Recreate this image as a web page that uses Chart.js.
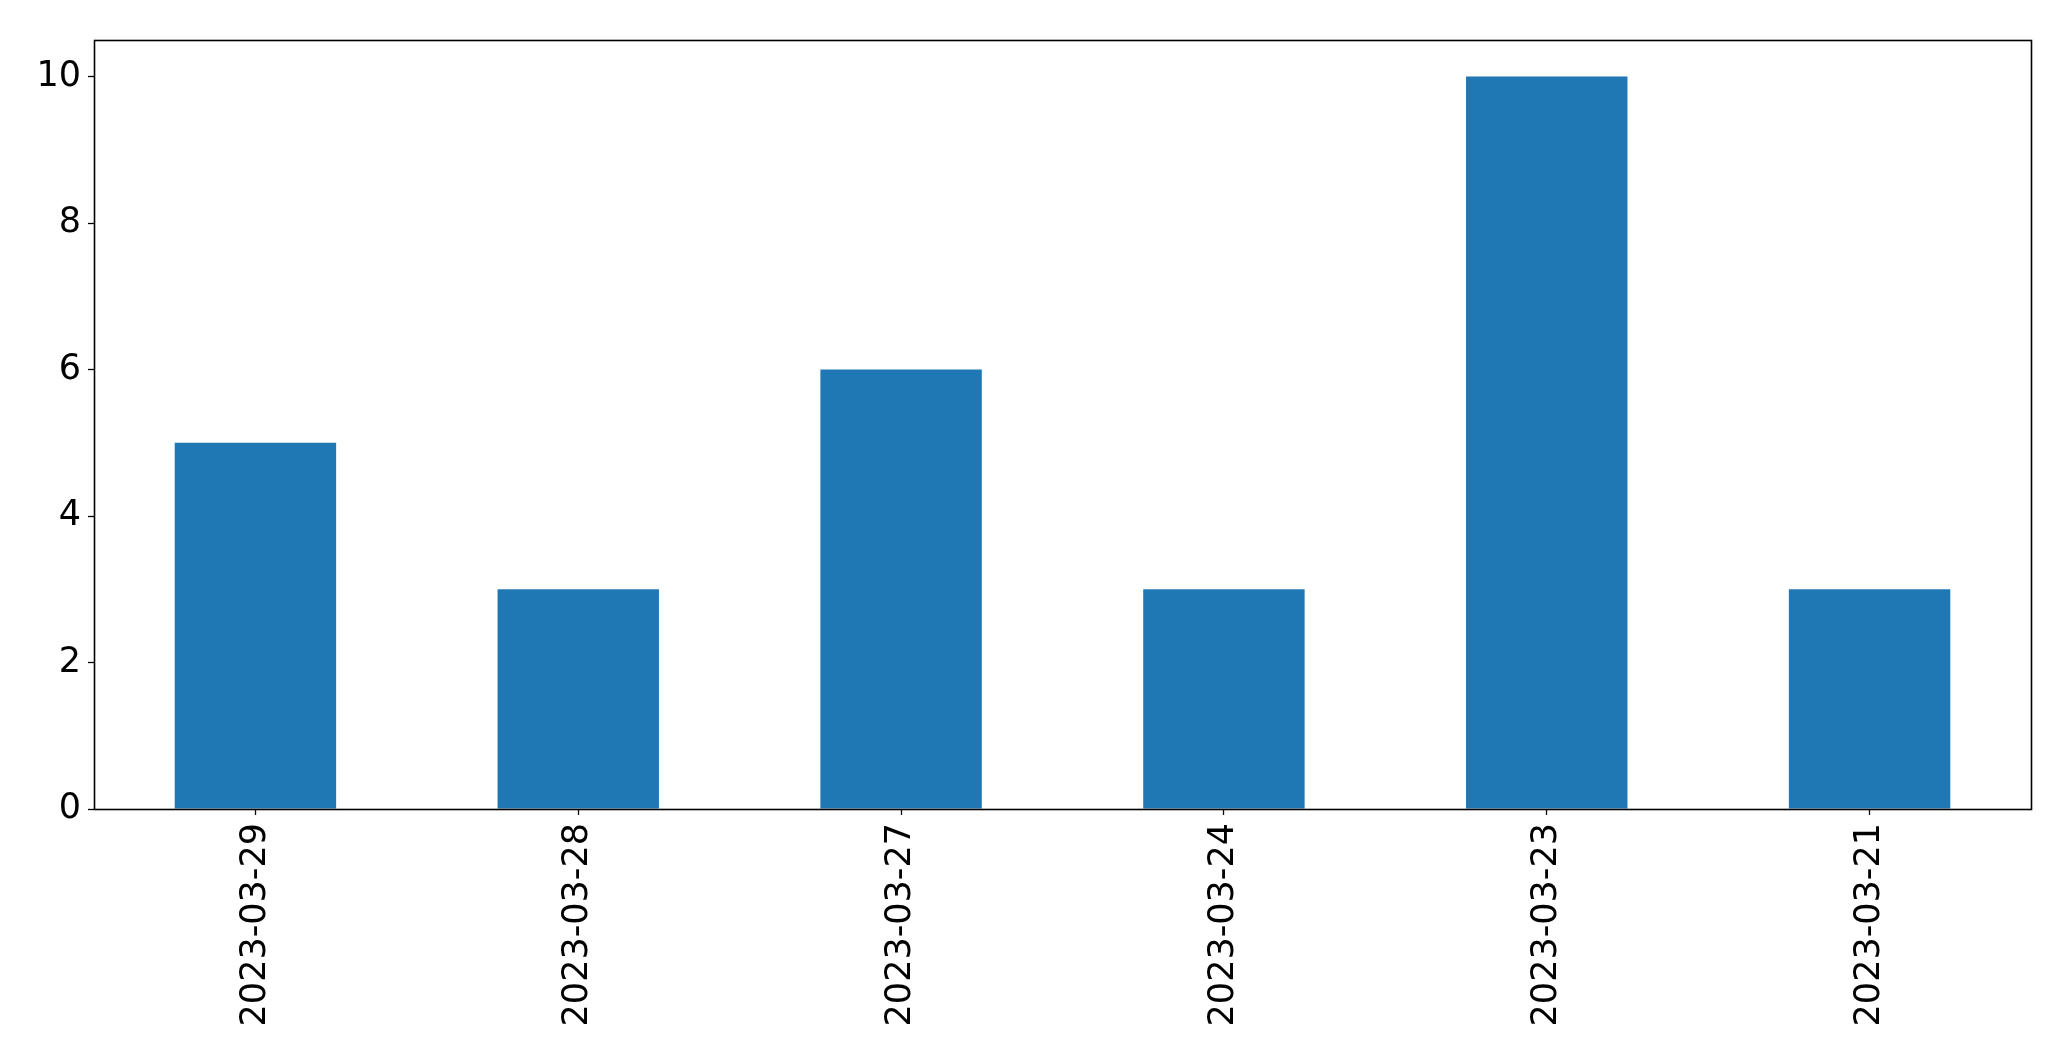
<!DOCTYPE html>
<html>
<head>
<meta charset="utf-8">
<script src="https://cdn.jsdelivr.net/npm/chart.js@4/dist/chart.umd.min.js"></script>
<style>
  body { margin: 0; background: #fff; }
</style>
</head>
<body>
<canvas id="myChart" width="2071" height="1061"></canvas>
<script>
const labels = ['2023-03-29', '2023-03-28', '2023-03-27', '2023-03-24', '2023-03-23', '2023-03-21']
const counts = [5, 3, 6, 3, 10, 3]
const yTicks = [0, 2, 4, 6, 8, 10]

// matplotlib style box around the plot area
const frame = {
  id: 'frame',
  afterDraw(chart) {
    const { ctx, chartArea } = chart
    ctx.save()
    ctx.strokeStyle = '#000'
    ctx.lineWidth = 1.6
    ctx.strokeRect(chartArea.left + 0.5, chartArea.top + 0.5, chartArea.right - chartArea.left, chartArea.bottom - chartArea.top)
    ctx.restore()
  }
}

const font = { family: 'DejaVu Sans', size: 35 }

new Chart(document.getElementById('myChart').getContext('2d'), {
  type: 'bar',
  data: {
    labels: labels,
    datasets: [{
      data: counts,
      backgroundColor: '#1f77b4',
      categoryPercentage: 1,
      barPercentage: 0.5
    }]
  },
  options: {
    responsive: false,
    animation: false,
    layout: { padding: { top: 40, right: 40, left: 0, bottom: 0 } },
    plugins: { legend: { display: false }, tooltip: { enabled: false } },
    scales: {
      x: {
        grid: { offset: false, drawOnChartArea: false, tickLength: 6, tickColor: '#000', tickWidth: 1.3 },
        border: { display: false },
        ticks: { font: font, color: '#000', minRotation: 90, maxRotation: 90, padding: 8, autoSkip: false },
        afterFit: (scale) => { scale.height = 252 }
      },
      y: {
        min: 0,
        max: 10.5,
        afterBuildTicks: (scale) => { scale.ticks = yTicks.map(v => ({ value: v })) },
        grid: { drawOnChartArea: false, tickLength: 6, tickColor: '#000', tickWidth: 1.3 },
        border: { display: false },
        ticks: { font: font, color: '#000', padding: 7 },
        afterFit: (scale) => { scale.width = 94 }
      }
    }
  },
  plugins: [frame]
})
</script>
</body>
</html>
